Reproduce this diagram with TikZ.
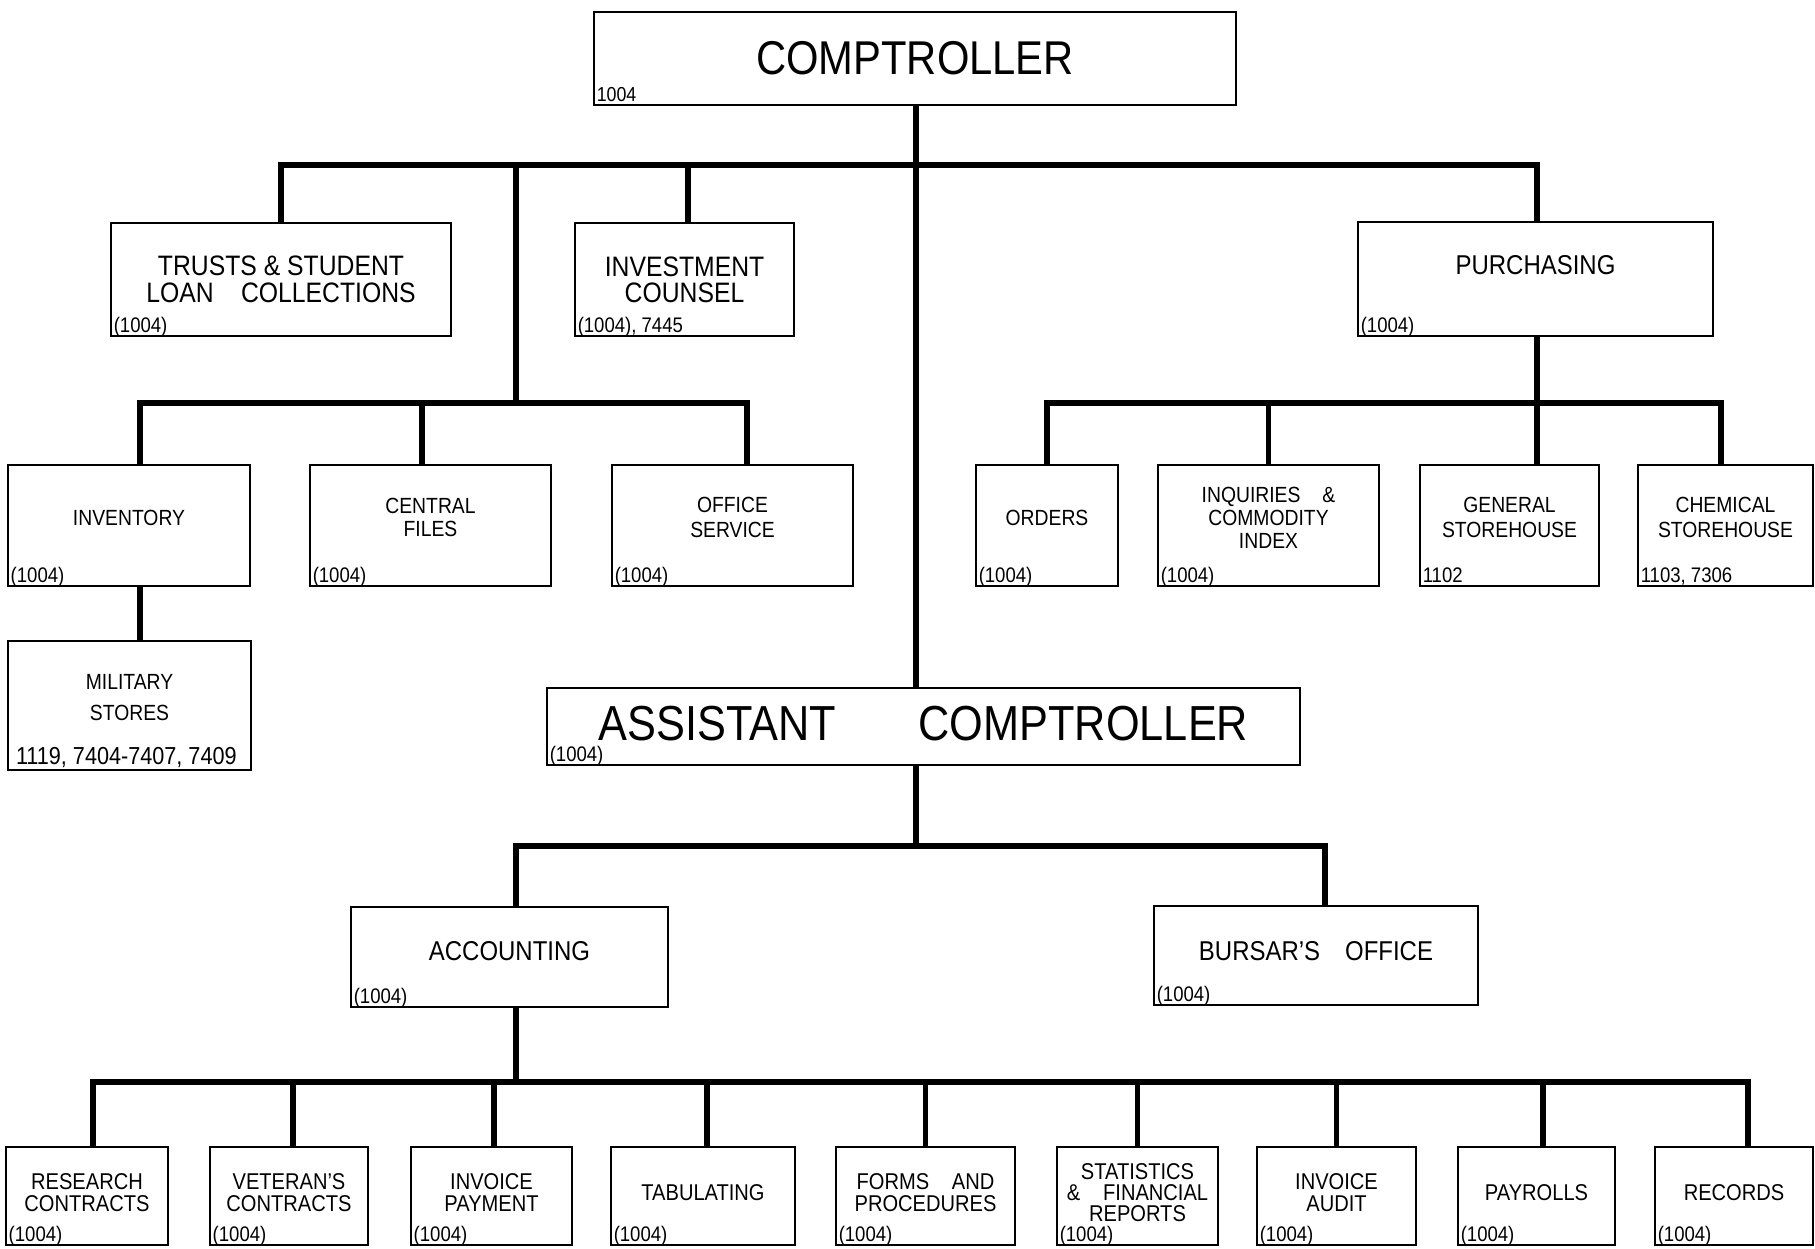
\documentclass[tikz,border=0pt]{standalone}
\usepackage{fontspec}
\setmainfont{Liberation Sans}[FakeStretch=0.88]
\begin{document}
\begin{tikzpicture}[x=0.02cm,y=-0.02cm]
\tikzstyle{every node}+=[inner sep=0pt]
\tikzstyle{box}=[draw, line width=1.3pt, align=center]
\tikzstyle{conn}=[line width=3.3pt]
\tikzstyle{code}=[anchor=base west, xshift=2pt, yshift=2.6pt, font=\fontsize{12}{12}\selectfont]
\tikzstyle{head}=[font=\fontsize{27}{30}\selectfont]
\tikzstyle{dept}=[font=\fontsize{15.5}{15}\selectfont]
\tikzstyle{sect}=[font=\fontsize{12.5}{13}\selectfont, text depth=0.32cm]
\tikzstyle{unit}=[font=\fontsize{13}{12}\selectfont, text depth=0.14cm]
\useasboundingbox (0,0) rectangle (1815,1248);
% top level
\node[box, head, minimum width=12.84cm, minimum height=1.86cm] (comp) at (915,58.5) {COMPTROLLER};
\node[code, font=\fontsize{11.5}{12}\selectfont] (comp-id) at (comp.south west) {1004};
\node[box, dept, font=\fontsize{16}{15.3}\selectfont, minimum width=6.8cm, minimum height=2.26cm] (trusts) at (281,279.5) {TRUSTS \& STUDENT\\LOAN\hspace{0.55cm}COLLECTIONS};
\node[code] (trusts-id) at (trusts.south west) {(1004)};
\node[box, dept, font=\fontsize{16}{14.8}\selectfont, minimum width=4.38cm, minimum height=2.26cm] (invest) at (684.5,279.5) {INVESTMENT\\COUNSEL};
\node[code] (invest-id) at (invest.south west) {(1004), 7445};
\node[box, dept, text depth=0.56cm, minimum width=7.1cm, minimum height=2.28cm] (purch) at (1535.5,279) {PURCHASING};
\node[code] (purch-id) at (purch.south west) {(1004)};
% left group
\node[box, sect, minimum width=4.84cm, minimum height=2.42cm] (inv) at (129,525.5) {INVENTORY};
\node[code] (inv-id) at (inv.south west) {(1004)};
\node[box, sect, minimum width=4.82cm, minimum height=2.42cm] (central) at (430.5,525.5) {CENTRAL\\FILES};
\node[code] (central-id) at (central.south west) {(1004)};
\node[box, sect, font=\fontsize{12.5}{14}\selectfont, minimum width=4.82cm, minimum height=2.42cm] (office) at (732.5,525.5) {OFFICE\\SERVICE};
\node[code] (office-id) at (office.south west) {(1004)};
\node[box, sect, font=\fontsize{12.5}{17.6}\selectfont, minimum width=4.86cm, minimum height=2.58cm] (mil) at (129.5,705.5) {MILITARY\\STORES};
\node[code, xshift=3pt, yshift=1.2pt, font=\fontsize{14}{14}\selectfont] (mil-id) at (mil.south west) {1119, 7404-7407, 7409};
% right group
\node[box, sect, minimum width=2.84cm, minimum height=2.42cm] (orders) at (1047,525.5) {ORDERS};
\node[code] (orders-id) at (orders.south west) {(1004)};
\node[box, sect, minimum width=4.42cm, minimum height=2.42cm] (inq) at (1268.5,525.5) {INQUIRIES\quad\&\\COMMODITY\\INDEX};
\node[code] (inq-id) at (inq.south west) {(1004)};
\node[box, sect, font=\fontsize{12.5}{14}\selectfont, minimum width=3.58cm, minimum height=2.42cm] (general) at (1509.5,525.5) {GENERAL\\STOREHOUSE};
\node[code] (general-id) at (general.south west) {1102};
\node[box, sect, font=\fontsize{12.5}{14}\selectfont, minimum width=3.5cm, minimum height=2.42cm] (chem) at (1725.5,525.5) {CHEMICAL\\STOREHOUSE};
\node[code] (chem-id) at (chem.south west) {1103, 7306};
% assistant comptroller
\node[box, head, font=\fontsize{28}{30}\selectfont, text depth=0.12cm, minimum width=15.06cm, minimum height=1.54cm] (asst) at (923.5,726.5) {ASSISTANT\hspace{1.65cm}COMPTROLLER};
\node[code] (asst-id) at (asst.south west) {(1004)};
\node[box, dept, text depth=0.24cm, minimum width=6.34cm, minimum height=2cm] (acct) at (509.5,957) {ACCOUNTING};
\node[code] (acct-id) at (acct.south west) {(1004)};
\node[box, dept, text depth=0.2cm, minimum width=6.48cm, minimum height=1.98cm] (bursar) at (1316,955.5) {BURSAR'S\hspace{0.5cm}OFFICE};
\node[code] (bursar-id) at (bursar.south west) {(1004)};
% bottom row
\node[box, unit, minimum width=3.24cm, minimum height=1.96cm] (research) at (87,1196) {RESEARCH\\CONTRACTS};
\node[box, unit, minimum width=3.16cm, minimum height=1.96cm] (veteran) at (289,1196) {VETERAN'S\\CONTRACTS};
\node[box, unit, minimum width=3.22cm, minimum height=1.96cm] (invpay) at (491.5,1196) {INVOICE\\PAYMENT};
\node[box, unit, minimum width=3.68cm, minimum height=1.96cm] (tab) at (703,1196) {TABULATING};
\node[box, unit, minimum width=3.58cm, minimum height=1.96cm] (forms) at (925.5,1196) {FORMS\quad AND\\PROCEDURES};
\node[box, unit, minimum width=3.22cm, minimum height=1.96cm] (stats) at (1137.5,1196) {STATISTICS\\\&\quad FINANCIAL\\REPORTS};
\node[box, unit, minimum width=3.18cm, minimum height=1.96cm] (invaud) at (1336.5,1196) {INVOICE\\AUDIT};
\node[box, unit, minimum width=3.14cm, minimum height=1.96cm] (payroll) at (1536.5,1196) {PAYROLLS};
\node[box, unit, minimum width=3.16cm, minimum height=1.96cm] (records) at (1734,1196) {RECORDS};
\foreach \n in {research,veteran,invpay,tab,forms,stats,invaud,payroll,records}
  \node[code] (\n-id) at (\n.south west) {(1004)};
% branch points
\coordinate (tbus) at (916,165);
\coordinate (lbus) at (516,403);
\coordinate (rbus) at (1537,403);
\coordinate (mbus) at (916,846);
\coordinate (bbus) at (516,1082);
\coordinate (invest-top) at ([xshift=0.07cm]invest.north);
\coordinate (inv-top) at ([xshift=0.22cm]inv.north);
\coordinate (central-top) at ([xshift=-0.17cm]central.north);
\coordinate (office-top) at ([xshift=0.29cm]office.north);
\coordinate (general-top) at (general.north -| rbus);
\coordinate (chem-top) at ([xshift=-0.09cm]chem.north);
\coordinate (acct-top) at ([xshift=0.13cm]acct.north);
\coordinate (bursar-top) at ([xshift=0.18cm]bursar.north);
\coordinate (research-top) at ([xshift=0.12cm]research.north);
\coordinate (veteran-top) at ([xshift=0.08cm]veteran.north);
\coordinate (invpay-top) at ([xshift=0.05cm]invpay.north);
\coordinate (tab-top) at ([xshift=0.08cm]tab.north);
\coordinate (forms-top) at (forms.north);
\coordinate (stats-top) at (stats.north);
\coordinate (invaud-top) at (invaud.north);
\coordinate (payroll-top) at ([xshift=0.13cm]payroll.north);
\coordinate (records-top) at ([xshift=0.28cm]records.north);
% connectors
\draw[conn] (comp.south -| tbus) -- (asst.north -| tbus);
\draw[conn] (trusts.north) |- (tbus) -| (purch.north -| rbus);
\draw[conn] (invest-top) -- (invest-top |- tbus);
\draw[conn] (lbus) -- (lbus |- tbus);
\draw[conn] (inv-top) |- (lbus) -| (office-top);
\draw[conn] (central-top) -- (central-top |- lbus);
\draw[conn] (inv.south -| inv-top) -- (mil.north -| inv-top);
\draw[conn] (purch.south -| rbus) -- (general-top);
\draw[conn] (orders.north) |- (rbus) -| (chem-top);
\draw[conn] (inq.north) -- (inq.north |- rbus);
\draw[conn] (asst.south -| mbus) -- (mbus);
\draw[conn] (acct-top) |- (mbus) -| (bursar-top);
\draw[conn] (acct.south -| bbus) -- (bbus);
\draw[conn] (research-top) |- (bbus) -| (records-top);
\foreach \n in {veteran,invpay,tab,forms,stats,invaud,payroll}
  \draw[conn] (\n-top) -- (\n-top |- bbus);
\end{tikzpicture}
\end{document}
